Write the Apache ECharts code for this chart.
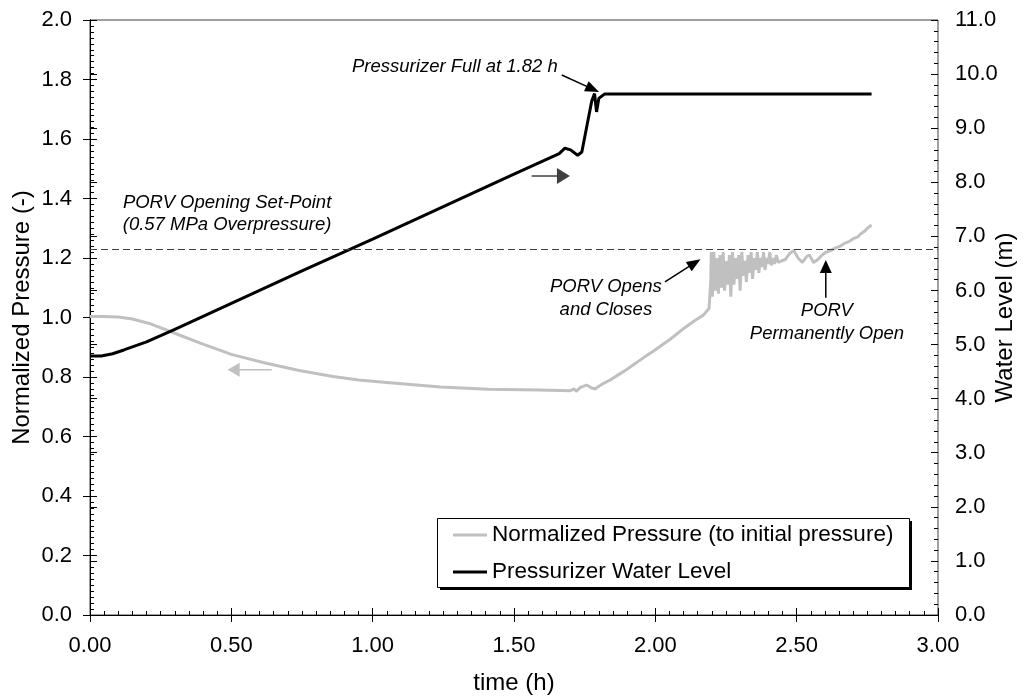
<!DOCTYPE html>
<html>
<head>
<meta charset="utf-8">
<script src="https://cdn.jsdelivr.net/npm/echarts@6/dist/echarts.min.js"></script>
<style>
  html, body { margin: 0; padding: 0; background: #ffffff; }
  #chart { width: 1027px; height: 697px; }
</style>
</head>
<body>
<div id="chart"></div>
<script>
const FONT = '"Liberation Sans", Arial, Helvetica, sans-serif';

// Normalized pressure (to initial pressure) vs time (h)
const pressureTime = [
  0.000, 0.050, 0.100, 0.150, 0.210, 0.300, 0.390, 0.500, 0.620, 0.740,
  0.860, 0.950, 1.060, 1.240, 1.410, 1.590, 1.700, 1.712, 1.720, 1.735,
  1.757, 1.775, 1.786, 1.810, 1.840, 1.870, 1.900, 1.930, 1.960, 1.990,
  2.020, 2.050, 2.080, 2.110, 2.140, 2.170, 2.190, 2.196,
  2.198, 2.202, 2.207, 2.212, 2.218, 2.223, 2.229, 2.234, 2.240, 2.245,
  2.251, 2.256, 2.262, 2.267, 2.273, 2.278, 2.284, 2.289, 2.295, 2.300,
  2.306, 2.311, 2.317, 2.322, 2.328, 2.333, 2.339, 2.344, 2.350, 2.355,
  2.361, 2.366, 2.372, 2.377, 2.383, 2.388, 2.394, 2.399, 2.405, 2.410,
  2.416, 2.422, 2.428, 2.435, 2.445,
  2.460, 2.475, 2.490, 2.505, 2.520, 2.535, 2.545, 2.560, 2.575, 2.590,
  2.605, 2.620, 2.640, 2.655, 2.670, 2.685, 2.700, 2.715, 2.725, 2.740,
  2.750, 2.765
];
const pressureValue = [
  1.003, 1.003, 1.002, 0.995, 0.980, 0.947, 0.914, 0.876, 0.847, 0.822,
  0.802, 0.790, 0.781, 0.766, 0.759, 0.756, 0.754, 0.760, 0.752, 0.765,
  0.773, 0.763, 0.760, 0.775, 0.790, 0.808, 0.826, 0.846, 0.866, 0.885,
  0.905, 0.925, 0.948, 0.970, 0.990, 1.008, 1.030, 1.120,
  1.220, 1.070, 1.220, 1.090, 1.200, 1.080, 1.210, 1.100, 1.220, 1.090,
  1.190, 1.110, 1.210, 1.070, 1.220, 1.110, 1.200, 1.130, 1.210, 1.090,
  1.220, 1.140, 1.190, 1.120, 1.210, 1.150, 1.220, 1.130, 1.200, 1.160,
  1.220, 1.150, 1.200, 1.170, 1.220, 1.160, 1.200, 1.180, 1.220, 1.175,
  1.200, 1.180, 1.210, 1.185, 1.190,
  1.195, 1.215, 1.225, 1.200, 1.185, 1.205, 1.210, 1.185, 1.195, 1.210,
  1.220, 1.225, 1.235, 1.240, 1.250, 1.255, 1.265, 1.270, 1.280, 1.290,
  1.300, 1.311
];

// Pressurizer water level (m) vs time (h)
const levelTime = [
  0.000, 0.040, 0.080, 0.120, 0.200, 0.300, 0.500, 0.750, 1.000, 1.250,
  1.500, 1.660, 1.680, 1.700, 1.725, 1.740, 1.760, 1.775, 1.785, 1.792,
  1.800, 1.820, 2.765
];
const levelValue = [
  4.79, 4.79, 4.83, 4.90, 5.05, 5.28, 5.76, 6.36, 6.95, 7.55,
  8.15, 8.53, 8.63, 8.60, 8.50, 8.56, 9.10, 9.50, 9.64, 9.30,
  9.55, 9.63, 9.63
];

// PORV opening set-point, normalized pressure
const setPoint = 1.23;

const seriesNames = ['Normalized Pressure (to initial pressure)', 'Pressurizer Water Level'];
const axisTitles = { x: 'time (h)', left: 'Normalized Pressure (-)', right: 'Water Level (m)' };

// Notes placed in (time, normalized pressure) coordinates
const notes = [
  { text: 'Pressurizer Full at 1.82 h', at: [0.927, 1.842], align: 'left' },
  { text: 'PORV Opening Set-Point', at: [0.485, 1.385], align: 'center' },
  { text: '(0.57 MPa Overpressure)', at: [0.485, 1.311], align: 'center' },
  { text: 'PORV Opens', at: [1.825, 1.104], align: 'center' },
  { text: 'and Closes', at: [1.825, 1.025], align: 'center' },
  { text: 'PORV', at: [2.607, 1.022], align: 'center' },
  { text: 'Permanently Open', at: [2.607, 0.945], align: 'center' }
];
const arrows = [
  { from: [1.669, 1.815], to: [1.801, 1.758], color: '#000000', width: 1.5, head: [14, 11] },
  { from: [2.034, 1.120], to: [2.160, 1.196], color: '#000000', width: 1.5, head: [14, 11] },
  { from: [2.603, 1.066], to: [2.603, 1.193], color: '#000000', width: 1.5, head: [13, 12] },
  { from: [0.643, 0.824], to: [0.487, 0.824], color: '#c0c0c0', width: 1.5, head: [12, 14] },
  { from: [1.5625, 1.4756], to: [1.698, 1.4756], color: '#404040', width: 1.5, head: [13, 16] }
];

const zip = (a, b) => a.map((v, i) => [v, b[i]]);

const chart = echarts.init(document.getElementById('chart'), null, { renderer: 'canvas' });

const labelStyle = { fontFamily: FONT, fontSize: 22, color: '#000000' };
const titleStyle = { fontFamily: FONT, fontSize: 24, color: '#000000' };
const lineBlack = { color: '#000000', width: 1 };

// Plot area and legend frame (pixels)
const plot = { left: 90, right: 89, top: 20, bottom: 82 };
const legendBox = { x: 437, y: 518, w: 472, h: 69 };

chart.setOption({
  animation: false,
  backgroundColor: '#ffffff',
  grid: {
    left: plot.left, right: plot.right, top: plot.top, bottom: plot.bottom,
    containLabel: false, outerBoundsMode: 'none',
    show: true, borderColor: '#404040', borderWidth: 1, backgroundColor: 'transparent'
  },
  legend: {
    orient: 'vertical', left: legendBox.x, top: legendBox.y,
    padding: [5, 16, 3, 16], itemGap: 13, itemWidth: 34, itemHeight: 3,
    backgroundColor: 'transparent', borderWidth: 0,
    textStyle: { fontFamily: FONT, fontSize: 22.5, color: '#000000', lineHeight: 24 },
    data: seriesNames.map(n => ({ name: n, icon: 'rect' })),
    z: 20
  },
  xAxis: [
    {
      type: 'value', position: 'bottom', min: 0, max: 3, interval: 0.5,
      name: axisTitles.x, nameLocation: 'middle', nameGap: 56,
      nameTextStyle: titleStyle,
      axisLine: { show: true, lineStyle: lineBlack },
      axisTick: { show: true, inside: false, length: 7, lineStyle: lineBlack },
      axisLabel: { ...labelStyle, margin: 20, formatter: v => v.toFixed(2) },
      splitLine: { show: false }
    },
    {
      type: 'value', position: 'bottom', min: 0, max: 3, interval: 0.5,
      axisLine: { show: false },
      axisTick: { show: true, inside: true, length: 7, lineStyle: lineBlack },
      minorTick: { show: true, splitNumber: 10, length: 4, lineStyle: lineBlack },
      axisLabel: { show: false },
      splitLine: { show: false }
    }
  ],
  yAxis: [
    {
      type: 'value', position: 'left', min: 0, max: 2, interval: 0.2,
      axisLine: { show: true, lineStyle: lineBlack },
      axisTick: { show: true, inside: false, length: 7, lineStyle: lineBlack },
      axisLabel: { ...labelStyle, margin: 18, formatter: v => v.toFixed(1) },
      splitLine: { show: false }
    },
    {
      type: 'value', position: 'right', min: 0, max: 11, interval: 1,
      axisLine: { show: true, lineStyle: lineBlack },
      axisTick: { show: true, inside: false, length: 7, lineStyle: lineBlack },
      axisLabel: { ...labelStyle, margin: 17, formatter: v => v.toFixed(1) },
      splitLine: { show: false }
    },
    {
      type: 'value', position: 'left', min: 0, max: 2, interval: 0.2,
      axisLine: { show: false },
      axisTick: { show: true, inside: true, length: 7, lineStyle: lineBlack },
      minorTick: { show: true, splitNumber: 10, length: 4, lineStyle: lineBlack },
      axisLabel: { show: false },
      splitLine: { show: false }
    },
    {
      type: 'value', position: 'right', min: 0, max: 11, interval: 1,
      axisLine: { show: false },
      axisTick: { show: true, inside: true, length: 7, lineStyle: lineBlack },
      minorTick: { show: true, splitNumber: 5, length: 4, lineStyle: lineBlack },
      axisLabel: { show: false },
      splitLine: { show: false }
    }
  ],
  series: [
    {
      name: seriesNames[0], type: 'line', xAxisIndex: 0, yAxisIndex: 0,
      data: zip(pressureTime, pressureValue),
      symbol: 'none', smooth: false,
      lineStyle: { color: '#c0c0c0', width: 3 },
      itemStyle: { color: '#c0c0c0' },
      z: 2,
      markLine: {
        silent: true, symbol: ['none', 'none'],
        label: { show: false },
        lineStyle: { color: '#404040', width: 1, type: [7, 4] },
        data: [{ yAxis: setPoint }]
      }
    },
    {
      name: seriesNames[1], type: 'line', xAxisIndex: 0, yAxisIndex: 1,
      data: zip(levelTime, levelValue),
      symbol: 'none', smooth: false,
      lineStyle: { color: '#000000', width: 3 },
      itemStyle: { color: '#000000' },
      z: 3
    }
  ]
});

// Notes, arrows and vertical axis titles
function toPx(pt) {
  return chart.convertToPixel({ xAxisIndex: 0, yAxisIndex: 0 }, pt);
}
const W = chart.getWidth(), H = chart.getHeight();
const midY = plot.top + (H - plot.top - plot.bottom) / 2;

const graphics = [
  {
    type: 'rect', z: 10,
    shape: { x: legendBox.x + 3, y: legendBox.y + 3, width: legendBox.w, height: legendBox.h },
    style: { fill: '#000000' }
  },
  {
    type: 'rect', z: 11,
    shape: { x: legendBox.x + 0.5, y: legendBox.y + 0.5, width: legendBox.w, height: legendBox.h },
    style: { fill: '#ffffff', stroke: '#000000', lineWidth: 1 }
  },
  {
    type: 'text', x: 22, y: midY, rotation: Math.PI / 2, z: 50,
    style: {
      text: axisTitles.left, fill: '#000000', fontFamily: FONT, fontSize: 24,
      align: 'center', verticalAlign: 'middle', textAlign: 'center', textVerticalAlign: 'middle'
    }
  },
  {
    type: 'text', x: W - 22, y: midY, rotation: Math.PI / 2, z: 50,
    style: {
      text: axisTitles.right, fill: '#000000', fontFamily: FONT, fontSize: 24,
      align: 'center', verticalAlign: 'middle', textAlign: 'center', textVerticalAlign: 'middle'
    }
  }
];
notes.forEach(n => {
  const p = toPx(n.at);
  graphics.push({
    type: 'text', x: p[0], y: p[1], z: 100,
    style: {
      text: n.text, fill: '#000000',
      fontFamily: FONT, fontSize: 18.5, fontStyle: 'italic',
      align: n.align, verticalAlign: 'middle',
      textAlign: n.align, textVerticalAlign: 'middle'
    }
  });
});
arrows.forEach(a => {
  const p0 = toPx(a.from), p1 = toPx(a.to);
  const dx = p1[0] - p0[0], dy = p1[1] - p0[1];
  const len = Math.hypot(dx, dy);
  const ux = dx / len, uy = dy / len;
  const bx = p1[0] - ux * a.head[0], by = p1[1] - uy * a.head[0];
  const hw = a.head[1] / 2;
  graphics.push({
    type: 'line', z: 100,
    shape: { x1: p0[0], y1: p0[1], x2: bx + ux, y2: by + uy },
    style: { stroke: a.color, lineWidth: a.width }
  });
  graphics.push({
    type: 'polygon', z: 100,
    shape: { points: [[p1[0], p1[1]], [bx - uy * hw, by + ux * hw], [bx + uy * hw, by - ux * hw]] },
    style: { fill: a.color }
  });
});
chart.setOption({ graphic: graphics });
</script>
</body>
</html>
